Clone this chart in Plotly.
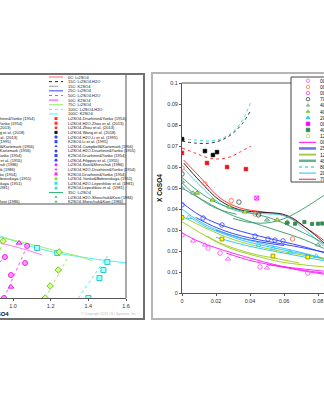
import plotly.graph_objects as go

# ===================== LEFT PANEL DATA =====================
L_xticks = [1.0, 1.2, 1.4, 1.6]
L_xticktext = ["1.0", "1.2", "1.4", "1.6"]

L_cyan_x = [0.931, 1.03, 1.128, 1.235, 1.35, 1.45, 1.55, 1.603]
L_cyan_y = [0.330, 0.295, 0.266, 0.239, 0.220, 0.205, 0.193, 0.186]
L_lgreen_x = [0.931, 1.091, 1.251, 1.35, 1.421]
L_lgreen_y = [0.324, 0.287, 0.245, 0.222, 0.197]
L_mag_x = [0.931, 1.05, 1.155]
L_mag_y = [0.293, 0.262, 0.229]
L_cyandot_x = [1.347, 1.501]
L_cyandot_y = [0.0, 0.223]
L_greendot_x = [1.171, 1.293]
L_greendot_y = [0.0, 0.218]
L_greendot2_x = [0.931, 0.947]
L_greendot2_y = [0.255, 0.303]
L_magdot_x = [0.952, 1.075]
L_magdot_y = [0.0, 0.277]
L_magdot2_x = [0.931, 0.968]
L_magdot2_y = [0.191, 0.239]

L_cyansq_x = [1.128, 1.235, 1.501, 1.480, 1.459, 1.400]
L_cyansq_y = [0.266, 0.239, 0.191, 0.149, 0.106, 0.0]
L_magcirc_x = [1.075, 0.957, 1.064, 0.989, 0.952]
L_magcirc_y = [0.277, 0.218, 0.186, 0.122, 0.0]
L_magtri_x = [1.032, 0.989]
L_magtri_y = [0.293, 0.059]
L_green_x = [0.947, 1.245, 1.240, 1.197, 1.171]
L_green_y = [0.303, 0.245, 0.149, 0.064, 0.0]

# left legend (visible column)
L_leg_labels = [
    "0C: Li2SO4", "15C: Li2SO4.H2O", "15C: K2SO4", "25C: Li2SO4",
    "50C: Li2SO4.H2O", "50C: K2SO4", "75C: Li2SO4", "100C: Li2SO4.H2O",
    "100C: K2SO4",
    "Li2SO4-Druzhinin&Yanko (1954)", "Li2SO4.H2O-Zhou et al. (2013)",
    "Li2SO4-Zhou et al. (2013)", "Li2SO4-Wang et al. (2018)",
    "Li2SO4.H2O-Li et al. (1995)", "K2SO4-Li et al. (1995)",
    "Li2SO4-Campbell&Kartzmark (1956)", "Li2SO4.H2O-Druzhinin&Yanko (1955)",
    "K2SO4-Druzhinin&Yanko (1954)", "Li2SO4-Filippov et al. (1955)",
    "Li2SO4-Kost&Shevchuk (1986)", "Li2SO4.H2O-Druzhinin&Yanko (1954)",
    "K2SO4-Druzhinin&Yanko (1954)", "Li2SO4-Yanko&Bobrovskaya (1951)",
    "Li2SO4.H2O-Lepeshkov et al. (1981)", "K2SO4-Lepeshkov et al. (1981)",
    "35C: Li2SO4", "Li2SO4.H2O-Shevchuk&Kost (1984)", "K2SO4-Shevchuk&Kost (1986)",
]
L_leg_kind = ["line"] * 9 + ["marker"] * 16 + ["line", "marker", "marker"]
L_leg_color = ["#ff6666", "#222222", "#999999", "#3344ff", "#ff33ff", "#ff33ff",
               "#99ee66", "#33ffff", "#33ffff",
               "#ff3333", "#ff3333", "#ff3333", "#111111", "#3344ff", "#3344ff",
               "#3344ff", "#3344ff", "#3344ff", "#3344ff", "#ff22ff", "#ff22ff",
               "#ff22ff", "#88dd33", "#33dddd", "#33dddd",
               "#33bb77", "#44bb66", "#44bb66"]
L_leg_dash = ["solid", "dot", "dash", "solid", "dot", "dash", "solid", "dot", "dash"] + \
             [None] * 16 + ["solid", None, None]
L_leg_symbol = [None] * 9 + ["square", "square", "circle", "square", "diamond", "square",
                             "triangle-up", "circle", "square", "diamond", "circle",
                             "triangle-up", "square", "diamond", "square", "circle"] + \
               [None, "triangle-up", "triangle-up"]

# left legend (cut-off column)
L_leg2_labels = [
    "K2SO4-Druzhinin&Yanko (1954)", "Li2SO4.H2O-Druzhinin&Yanko (1954)",
    "Li2SO4.H2O-Zhou et al. (2013)", "Li2SO4-Wang et al. (2018)",
    "Li2SO4-Li et al. (2013)", "K2SO4-Li et al. (1995)",
    "Li2SO4-Campbell&Kartzmark (1956)", "K2SO4-Campbell&Kartzmark (1956)",
    "K2SO4-Druzhinin&Yanko (1954)", "Li2SO4-Filippov et al. (1955)",
    "Li2SO4.H2O-Kost&Shevchuk (1986)", "K2SO4-Kost&Shevchuk (1986)",
    "K2SO4-Druzhinin&Yanko (1954)", "Li2SO4-Yanko&Bobrovskaya (1951)",
    "K2SO4-Yanko&Bobrovskaya (1951)", "K2SO4-Lepeshkov et al. (1981)",
    "Li2SO4-Shevchuk&Kost (1986)",
]
L_leg2_rows = [9, 10, 11, 12, 13, 14, 15, 16, 17, 18, 19, 20, 21, 22, 23, 24, 27]
L_leg2_end = [37, 25, 13, 27, 20, 13, 37, 33, 24, 25, 21, 18, 19, 34, 24, 12, 22]

# ===================== RIGHT PANEL DATA =====================
R_xticks = [0, 0.02, 0.04, 0.06, 0.08]
R_xticktext = ["0", "0.02", "0.04", "0.06", "0.08"]
R_yticks = [0, 0.01, 0.02, 0.03, 0.04, 0.05, 0.06, 0.07, 0.08, 0.09, 0.1]
R_yticktext = ["0", "0.01", "0.02", "0.03", "0.04", "0.05", "0.06", "0.07", "0.08", "0.09", "0.1"]

R_cyandot_x = [0, 0.0076, 0.0147, 0.0224, 0.0282, 0.0341, 0.0406]
R_cyandot_y = [0.0733, 0.0729, 0.0724, 0.0733, 0.0757, 0.0805, 0.0910]
R_blackdot_x = [0, 0.0076, 0.0165, 0.0235, 0.0294, 0.0353, 0.0406]
R_blackdot_y = [0.0724, 0.0714, 0.0714, 0.0729, 0.0757, 0.0805, 0.0871]
R_reddot_x = [0, 0.0076, 0.0135, 0.0206, 0.0282, 0.0341, 0.0406]
R_reddot_y = [0.0690, 0.0667, 0.0648, 0.0638, 0.0648, 0.0671, 0.0700]

R_blacksq_x = [0, 0.0135, 0.0182, 0.0206]
R_blacksq_y = [0.0733, 0.0676, 0.0657, 0.0671]
R_redsq_x = [0, 0.0147, 0.0265, 0.0376]
R_redsq_y = [0.0667, 0.0619, 0.0600, 0.0590]

R_curve_x = [0.001, 0.0106, 0.0224, 0.0341, 0.0476, 0.0590, 0.0660, 0.0720, 0.0780, 0.0835]
R_red_y = [0.0633, 0.0552, 0.0452, 0.0405, 0.0386, 0.0372, 0.0347, 0.0315, 0.0283, 0.0250]
R_black_y = [0.0619, 0.0532, 0.0440, 0.0396, 0.0384, 0.0376, 0.0352, 0.0316, 0.0278, 0.0238]
R_cyanup_y = [0.0592, 0.0512, 0.0426, 0.0387, 0.0378, 0.0370, 0.0343, 0.0303, 0.0262, 0.0222]

R_teal1_x = [0, 0.01, 0.02, 0.03, 0.04, 0.05, 0.06, 0.07, 0.08, 0.0835]
R_teal1_y = [0.0550, 0.0482, 0.0432, 0.0402, 0.0381, 0.0362, 0.0332, 0.0292, 0.0252, 0.0232]
R_teal2_x = [0, 0.008, 0.016, 0.024, 0.032]
R_teal2_y = [0.0525, 0.0465, 0.0420, 0.0392, 0.0375]
R_teal3_x = [0.030, 0.040, 0.050, 0.060, 0.070, 0.0835]
R_teal3_y = [0.0355, 0.0336, 0.0334, 0.0354, 0.0395, 0.0465]
R_teal4_x = [0, 0.015, 0.028, 0.040, 0.055, 0.070, 0.0835]
R_teal4_y = [0.0500, 0.0430, 0.0375, 0.0340, 0.0300, 0.0260, 0.0212]

R_blue1_x = [0, 0.01, 0.02, 0.03, 0.04, 0.05, 0.06, 0.07, 0.0835]
R_blue1_y = [0.0430, 0.0372, 0.0333, 0.0305, 0.0282, 0.0262, 0.0243, 0.0224, 0.0192]
R_blue2_x = [0.008, 0.02, 0.03, 0.04, 0.05, 0.06, 0.07, 0.0835]
R_blue2_y = [0.0360, 0.0312, 0.0283, 0.0262, 0.0246, 0.0232, 0.0217, 0.0195]
R_blue3_x = [0.02, 0.03, 0.04, 0.05, 0.06]
R_blue3_y = [0.0300, 0.0273, 0.0252, 0.0238, 0.0226]

R_cyan1_x = [0, 0.01, 0.02, 0.03, 0.04, 0.05, 0.06, 0.07, 0.0835]
R_cyan1_y = [0.0400, 0.0342, 0.0302, 0.0272, 0.0250, 0.0230, 0.0212, 0.0193, 0.0165]
R_cyan2_x = [0.005, 0.015, 0.025, 0.035, 0.045, 0.055, 0.065, 0.075, 0.0835]
R_cyan2_y = [0.0360, 0.0312, 0.0280, 0.0252, 0.0231, 0.0213, 0.0196, 0.0180, 0.0160]
R_cyan3_x = [0.02, 0.04, 0.06, 0.0835]
R_cyan3_y = [0.0265, 0.0222, 0.0190, 0.0153]

R_yg1_x = [0, 0.01, 0.028, 0.048, 0.058, 0.0835]
R_yg1_y = [0.0340, 0.0290, 0.0214, 0.0167, 0.0148, 0.0124]
R_yg2_x = [0.015, 0.0224, 0.040, 0.055, 0.069]
R_yg2_y = [0.0270, 0.0238, 0.0190, 0.0165, 0.0143]
R_yg3_x = [0, 0.015, 0.030, 0.050, 0.070, 0.0835]
R_yg3_y = [0.0365, 0.0305, 0.0255, 0.0212, 0.0182, 0.0162]

R_mag1_x = [0, 0.01, 0.02, 0.03, 0.044, 0.06, 0.07, 0.0835]
R_mag1_y = [0.0286, 0.0245, 0.0215, 0.0190, 0.0157, 0.0125, 0.0110, 0.0095]
R_mag2_x = [0.026, 0.040, 0.055, 0.075, 0.0835]
R_mag2_y = [0.0190, 0.0155, 0.0130, 0.0100, 0.0090]
R_mag3_x = [0.050, 0.065, 0.0835]
R_mag3_y = [0.0135, 0.0120, 0.0104]

# experimental points
R_pinkcirc_x = [0, 0.0153, 0.0224, 0.0459, 0.074]
R_pinkcirc_y = [0.0276, 0.0214, 0.0190, 0.0124, 0.0095]
R_orange_x = [0, 0.0135, 0.0290, 0.0430, 0.0650]
R_orange_y = [0.0595, 0.0519, 0.0440, 0.0376, 0.0257]
R_magtri_x = [0.0065, 0.0135, 0.0270, 0.0500]
R_magtri_y = [0.0248, 0.0229, 0.0162, 0.0119]
R_gray_x = [0, 0.0335, 0.0450]
R_gray_y = [0.0567, 0.0433, 0.0372]
R_tealtri_x = [0, 0, 0.0065, 0.0500, 0.0800]
R_tealtri_y = [0.0530, 0.0500, 0.0476, 0.0348, 0.0229]
R_gtri_x = [0.0088, 0.0180, 0.0280, 0.0370, 0.0560, 0.0620]
R_gtri_y = [0.0476, 0.0443, 0.0410, 0.0386, 0.0348, 0.0338]
R_cyantri_x = [0.004, 0.045, 0.0535, 0.0635, 0.079]
R_cyantri_y = [0.0360, 0.0229, 0.0214, 0.0195, 0.0176]
R_magsq_x = [0.044]
R_magsq_y = [0.0452]
R_dgsq_x = [0.0618, 0.0665, 0.0720, 0.0765, 0.0800, 0.0825]
R_dgsq_y = [0.0333, 0.0330, 0.0338, 0.0329, 0.0330, 0.0331]
R_ysq_x = [0, 0.0235, 0.0535, 0.0740]
R_ysq_y = [0.0360, 0.0257, 0.0176, 0.0171]
R_bluecirc_x = [0, 0.0124, 0.0235, 0.0430, 0.0506, 0.0547, 0.0594]
R_bluecirc_y = [0.0420, 0.0357, 0.0324, 0.0271, 0.0257, 0.0252, 0.0248]

# right legend
R_leg_labels = ["00C: Li2SO4", "00C: Li2SO4.H2O", "00C: K2SO4", "70C: Li2SO4",
                "40C: Li2SO4", "40C: K2SO4", "20C: Li2SO4", "00C: Li2SO4.H2O",
                "40C: Li2SO4.H2O", "12C: Li2SO4",
                "00C", "25C", "12C", "40C", "80C", "20C", "70C"]
R_leg_kind = ["marker"] * 10 + ["line"] * 7
R_leg_color = ["#ff55ff", "#ff7755", "#ee44ee", "#444444", "#88bbaa", "#88cc33",
               "#22ccee", "#ff00ff", "#338855", "#aadd66",
               "#ff00ff", "#6677ee", "#aacc44", "#66b38c", "#88dddd", "#33bbee", "#ff2222"]
R_leg_symbol = ["circle-open", "circle-open", "circle-open", "circle-open", "triangle-up",
                "triangle-up", "triangle-up", "square", "square", "circle-open"] + [None] * 7
R_leg_dash = [None] * 10 + ["solid", "solid", "solid", "solid", "dot", "solid", "solid"]
R_leg_width = [None] * 10 + [1, 2.5, 2, 2.5, 2, 1, 1]

# ===================== FIGURE =====================
W, H = 324, 400
FONT = "Liberation Sans, Arial, sans-serif"
fig = go.Figure()


def add_line(x, y, color, xa, ya, dash="solid", width=0.9):
    fig.add_trace(go.Scatter(x=x, y=y, mode="lines", xaxis=xa, yaxis=ya,
                             line=dict(color=color, width=width, dash=dash, shape="spline"),
                             showlegend=False, hoverinfo="skip"))


def add_pts(x, y, symbol, color, xa, ya, size=4, lcolor=None, fill=None, lw=0.8):
    fig.add_trace(go.Scatter(x=x, y=y, mode="markers", xaxis=xa, yaxis=ya,
                             marker=dict(symbol=symbol, size=size,
                                         color=fill if fill else color,
                                         line=dict(color=lcolor if lcolor else color, width=lw)),
                             showlegend=False, hoverinfo="skip"))


# ---- left panel traces
add_line(L_cyan_x, L_cyan_y, "#33eeee", "x", "y")
add_line(L_lgreen_x, L_lgreen_y, "#99ee55", "x", "y")
add_line(L_mag_x, L_mag_y, "#ff66ff", "x", "y")
add_line(L_cyandot_x, L_cyandot_y, "#33eeee", "x", "y", "dot")
add_line(L_greendot_x, L_greendot_y, "#88ee44", "x", "y", "dot")
add_line(L_greendot2_x, L_greendot2_y, "#88ee44", "x", "y", "dot")
add_line(L_magdot_x, L_magdot_y, "#ff44ff", "x", "y", "dot")
add_line(L_magdot2_x, L_magdot2_y, "#ff44ff", "x", "y", "dot")
add_pts(L_cyansq_x, L_cyansq_y, "square", "#22dddd", "x", "y", 5, "#22cccc", "#aaffff", 1)
add_pts(L_magcirc_x, L_magcirc_y, "circle", "#ff33ff", "x", "y", 5, "#ee22ee", "#ff99ff", 1)
add_pts(L_magtri_x, L_magtri_y, "triangle-up", "#ff33ff", "x", "y", 5, "#ee22ee", "#ff99ff", 1)
add_pts(L_green_x, L_green_y, "diamond", "#88dd33", "x", "y", 5, "#77cc22", "#ccff88", 1)

# ---- right panel traces
add_line(R_cyandot_x, R_cyandot_y, "#33dddd", "x2", "y2", "dot", 1)
add_line(R_blackdot_x, R_blackdot_y, "#333333", "x2", "y2", "dot", 1)
add_line(R_reddot_x, R_reddot_y, "#ff3333", "x2", "y2", "dot", 1)
add_line(R_curve_x, R_red_y, "#ff2020", "x2", "y2")
add_line(R_curve_x, R_black_y, "#111111", "x2", "y2")
add_line(R_curve_x, R_cyanup_y, "#33ccee", "x2", "y2")
add_line(R_teal1_x, R_teal1_y, "#339966", "x2", "y2")
add_line(R_teal2_x, R_teal2_y, "#339966", "x2", "y2")
add_line(R_teal3_x, R_teal3_y, "#339966", "x2", "y2")
add_line(R_teal4_x, R_teal4_y, "#339966", "x2", "y2")
add_line(R_blue1_x, R_blue1_y, "#2233ff", "x2", "y2")
add_line(R_blue2_x, R_blue2_y, "#2233ff", "x2", "y2")
add_line(R_blue3_x, R_blue3_y, "#2233ff", "x2", "y2")
add_line(R_cyan1_x, R_cyan1_y, "#22bbff", "x2", "y2")
add_line(R_cyan2_x, R_cyan2_y, "#22bbff", "x2", "y2")
add_line(R_cyan3_x, R_cyan3_y, "#22bbff", "x2", "y2")
add_line(R_yg1_x, R_yg1_y, "#99cc11", "x2", "y2")
add_line(R_yg2_x, R_yg2_y, "#99cc11", "x2", "y2")
add_line(R_yg3_x, R_yg3_y, "#99cc11", "x2", "y2")
add_line(R_mag1_x, R_mag1_y, "#ff11ff", "x2", "y2")
add_line(R_mag2_x, R_mag2_y, "#ff11ff", "x2", "y2")
add_line(R_mag3_x, R_mag3_y, "#ff11ff", "x2", "y2")

add_pts(R_blacksq_x, R_blacksq_y, "square", "#000000", "x2", "y2", 3.5)
add_pts(R_redsq_x, R_redsq_y, "square", "#ee1111", "x2", "y2", 3.5)
add_pts(R_pinkcirc_x, R_pinkcirc_y, "circle-open", "#ff44ff", "x2", "y2", 4.5)
add_pts(R_orange_x, R_orange_y, "circle-open", "#ff6644", "x2", "y2", 4.5)
add_pts(R_magtri_x, R_magtri_y, "triangle-up-open", "#ff44ff", "x2", "y2", 4.5)
add_pts(R_gray_x, R_gray_y, "circle-open", "#444444", "x2", "y2", 4.5)
add_pts(R_tealtri_x, R_tealtri_y, "triangle-up", "#88bbaa", "x2", "y2", 4.5, "#669988", "#aaddcc")
add_pts(R_gtri_x, R_gtri_y, "triangle-up", "#88cc33", "x2", "y2", 4.5, "#669922", "#bbee55")
add_pts(R_cyantri_x, R_cyantri_y, "triangle-up-open", "#22ccee", "x2", "y2", 4.5)
add_pts(R_magsq_x, R_magsq_y, "square-x-open", "#ff00ff", "x2", "y2", 4)
add_pts(R_dgsq_x, R_dgsq_y, "square", "#338855", "x2", "y2", 3.2)
add_pts(R_ysq_x, R_ysq_y, "square", "#dddd00", "x2", "y2", 3.8, "#888800", "#ffff00")
add_pts(R_bluecirc_x, R_bluecirc_y, "circle-open", "#3344ff", "x2", "y2", 4.5)

# ---- legends (drawn on a pixel-unit overlay axis)
LL_row0, LL_dy = 77.0, 4.62
LL_sx0, LL_sx1, LL_mx, LL_tx = 49, 63, 56, 66
annotations = []
for i, lab in enumerate(L_leg_labels):
    yy = LL_row0 + LL_dy * i
    if L_leg_kind[i] == "line":
        fig.add_trace(go.Scatter(x=[LL_sx0, LL_sx1], y=[yy, yy], mode="lines",
                                 xaxis="x3", yaxis="y3", showlegend=False, hoverinfo="skip",
                                 line=dict(color=L_leg_color[i], width=1, dash=L_leg_dash[i])))
    else:
        fig.add_trace(go.Scatter(x=[LL_mx], y=[yy], mode="markers",
                                 xaxis="x3", yaxis="y3", showlegend=False, hoverinfo="skip",
                                 marker=dict(symbol=L_leg_symbol[i], size=3,
                                             color=L_leg_color[i])))
    annotations.append(dict(x=LL_tx, y=yy, xref="x3", yref="y3", text=lab,
                            showarrow=False, xanchor="left", yanchor="middle",
                            font=dict(size=4, color="#111111", family=FONT)))
for lab, r, e in zip(L_leg2_labels, L_leg2_rows, L_leg2_end):
    annotations.append(dict(x=e, y=LL_row0 + LL_dy * r, xref="x3", yref="y3", text=lab,
                            showarrow=False, xanchor="right", yanchor="middle",
                            font=dict(size=4, color="#111111", family=FONT)))

RL_row0, RL_dy = 80.7, 6.16
RL_sx0, RL_sx1, RL_mx, RL_tx = 299, 316, 308, 317.5
for i, lab in enumerate(R_leg_labels):
    yy = RL_row0 + RL_dy * i
    if R_leg_kind[i] == "line":
        fig.add_trace(go.Scatter(x=[RL_sx0, RL_sx1], y=[yy, yy], mode="lines",
                                 xaxis="x3", yaxis="y3", showlegend=False, hoverinfo="skip",
                                 line=dict(color=R_leg_color[i], width=R_leg_width[i],
                                           dash=R_leg_dash[i])))
    else:
        fig.add_trace(go.Scatter(x=[RL_mx], y=[yy], mode="markers",
                                 xaxis="x3", yaxis="y3", showlegend=False, hoverinfo="skip",
                                 marker=dict(symbol=R_leg_symbol[i], size=3.5,
                                             color=R_leg_color[i],
                                             line=dict(color=R_leg_color[i], width=0.8))))
    annotations.append(dict(x=RL_tx, y=yy, xref="x3", yref="y3", text=lab,
                            showarrow=False, xanchor="left", yanchor="middle",
                            font=dict(size=5, color="#111111", family=FONT)))

# titles and credits
annotations += [
    dict(x=159, y=188, xref="x3", yref="y3", text="<b>X CoSO4</b>", textangle=-90,
         showarrow=False, xanchor="center", yanchor="middle",
         font=dict(size=6.5, color="#111111", family=FONT)),
    dict(x=11, y=314, xref="x3", yref="y3", text="<b>m Li2SO4</b>",
         showarrow=False, xanchor="right", yanchor="middle",
         font=dict(size=6, color="#111111", family=FONT)),
    dict(x=139, y=313.5, xref="x3", yref="y3", text="© Copyright 2021 OLI Systems, Inc.",
         showarrow=False, xanchor="right", yanchor="middle",
         font=dict(size=3.5, color="#bbbbbb", family=FONT)),
]

shapes = [
    # left panel outer frame
    dict(type="rect", xref="x3", yref="y3", x0=-10, x1=144, y0=74, y1=319,
         line=dict(color="#707070", width=2), layer="above"),
    # right panel outer frame
    dict(type="rect", xref="x3", yref="y3", x0=152, x1=340, y0=73, y1=319,
         line=dict(color="#b5b5b5", width=2), layer="above"),
    # left legend box / plot right edge
    dict(type="line", xref="x3", yref="y3", x0=126, x1=126, y0=75, y1=298,
         line=dict(color="#555555", width=1), layer="above"),
    dict(type="line", xref="x3", yref="y3", x0=-10, x1=126, y0=204, y1=204,
         line=dict(color="#555555", width=1), layer="above"),
    # right plot top edge
    dict(type="line", xref="x3", yref="y3", x0=182, x1=291, y0=83, y1=83,
         line=dict(color="#555555", width=1), layer="above"),
    # right legend box
    dict(type="rect", xref="x3", yref="y3", x0=291, x1=340, y0=77, y1=182,
         line=dict(color="#444444", width=1), layer="above"),
]

tickfont = dict(size=5.5, color="#333333", family=FONT)
fig.update_layout(
    width=W, height=H, margin=dict(l=0, r=0, t=0, b=0, autoexpand=False),
    paper_bgcolor="white", plot_bgcolor="rgba(0,0,0,0)",
    showlegend=False,
    xaxis=dict(domain=[0, 126 / W], range=[0.9307, 1.6], anchor="y",
               tickvals=L_xticks, ticktext=L_xticktext, ticks="outside", ticklen=2,
               tickcolor="#555555", showline=True, linecolor="#555555", linewidth=1,
               showgrid=False, zeroline=False, tickfont=tickfont, fixedrange=True),
    yaxis=dict(domain=[1 - 298 / H, 1 - 204 / H], range=[0, 0.5], anchor="x",
               showticklabels=False, showline=False, showgrid=False, zeroline=False,
               ticks="", fixedrange=True),
    xaxis2=dict(domain=[182 / W, 1], range=[0, 142 / 1700], anchor="y2",
                tickvals=R_xticks, ticktext=R_xticktext, ticks="outside", ticklen=2,
                tickcolor="#555555", showline=True, linecolor="#555555", linewidth=1,
                showgrid=False, zeroline=False, tickfont=tickfont, fixedrange=True),
    yaxis2=dict(domain=[1 - 293 / H, 1 - 83 / H], range=[0, 0.1], anchor="x2",
                tickvals=R_yticks, ticktext=R_yticktext, ticks="outside", ticklen=2,
                tickcolor="#555555", showline=True, linecolor="#555555", linewidth=1,
                showgrid=False, zeroline=False, tickfont=tickfont, fixedrange=True),
    xaxis3=dict(domain=[0, 1], range=[0, W], anchor="y3", visible=False, fixedrange=True),
    yaxis3=dict(domain=[0, 1], range=[H, 0], anchor="x3", visible=False, fixedrange=True),
    annotations=annotations,
    shapes=shapes,
)

fig.write_html("out.html")
